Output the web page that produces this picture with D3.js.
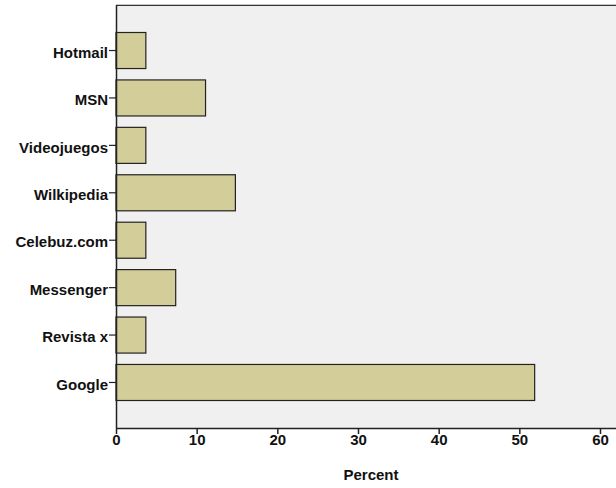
<!DOCTYPE html>
<html><head><meta charset="utf-8">
<script src="https://cdn.jsdelivr.net/npm/d3@7"></script>
<style>body{margin:0;background:#fff}svg{display:block}text{font-family:"Liberation Sans",Arial,sans-serif;font-weight:bold}</style>
</head><body><svg id="c" width="616" height="488"></svg>
<script>
const categories = ["Hotmail","MSN","Videojuegos","Wilkipedia","Celebuz.com","Messenger","Revista x","Google"];
const percents = [3.7,11.1,3.7,14.8,3.7,7.4,3.7,51.9];
const xTicks = [0,10,20,30,40,50,60];
const xLabel = "Percent";

const svg = d3.select("#c");
const L = 116, T = 5, B = 428, R = 640;
const x = d3.scaleLinear().domain([0,60]).range([L,600]);
const y = d3.scaleBand().domain(categories).range([T,B]).paddingInner(0.24).paddingOuter(0.58);

svg.append("rect").attr("x",L).attr("y",T).attr("width",R-L).attr("height",B-T).attr("fill","#f0f0f0");
svg.append("line").attr("x1",L).attr("x2",616).attr("y1",T-0.5).attr("y2",T-0.5).attr("stroke","#c8c8c8");
svg.append("line").attr("x1",L).attr("x2",616).attr("y1",T+0.5).attr("y2",T+0.5).attr("stroke","#333");

svg.selectAll("rect.bar").data(categories).enter().append("rect").attr("class","bar")
  .attr("x",x(0)).attr("y",d=>y(d)).attr("height",y.bandwidth())
  .attr("width",(d,i)=>x(percents[i])-x(0))
  .attr("fill","#d3ce99").attr("stroke","#222").attr("stroke-width",1.2);

const xa = svg.append("g").attr("transform",`translate(0,${B})`)
  .call(d3.axisBottom(x).tickValues(xTicks).tickSize(6).tickSizeOuter(0).tickPadding(0));
xa.select(".domain").attr("d",`M${L},0.5H${R}`).attr("stroke","#222").attr("stroke-width",1.5);
xa.selectAll(".tick line").attr("stroke","#222").attr("stroke-width",1.5);
xa.selectAll("text").attr("font-size",15).attr("fill","#111").attr("font-family","Liberation Sans, Arial").attr("font-weight","bold");

const ya = svg.append("g").attr("transform",`translate(${L},0)`)
  .call(d3.axisLeft(y).tickSize(7).tickSizeOuter(0).tickPadding(1));
ya.select(".domain").attr("d",`M0.5,${T}V${B}`).attr("stroke","#222").attr("stroke-width",1.5);
ya.selectAll(".tick line").attr("stroke","#222").attr("stroke-width",1.2);
ya.selectAll("text").attr("font-size",15).attr("fill","#111").attr("font-family","Liberation Sans, Arial").attr("font-weight","bold").attr("dy","0.48em");

svg.append("text").attr("x",371).attr("y",480).attr("text-anchor","middle")
  .attr("font-size",15).attr("fill","#111").text(xLabel);
</script></body></html>
